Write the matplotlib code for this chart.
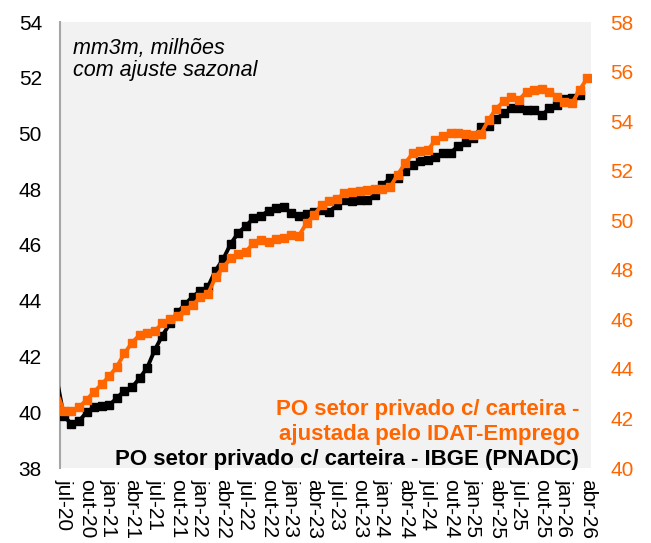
import numpy as np
import matplotlib
matplotlib.use("Agg")
import matplotlib.pyplot as plt

plt.rcParams['font.family'] = ['Liberation Sans', 'DejaVu Sans']
plt.rcParams['font.size'] = 15

# monthly series starting jun-20 (first point sits just left of the axis)
meses = ['jan', 'fev', 'mar', 'abr', 'mai', 'jun', 'jul', 'ago', 'set', 'out', 'nov', 'dez']
first_month = 5   # jun
first_year = 2020

pnadc = [41.3,
         39.87, 39.58, 39.68, 40.00, 40.19, 40.22, 40.26, 40.51, 40.78, 40.90,
         41.22, 41.60, 42.24, 42.75, 43.19, 43.58, 43.88, 44.15, 44.35, 44.50,
         45.08, 45.49, 46.04, 46.44, 46.68, 46.96, 47.04, 47.23, 47.32, 47.35,
         47.15, 47.03, 47.11, 47.20, 47.26, 47.20, 47.43, 47.61, 47.58, 47.61,
         47.61, 47.79, 48.15, 48.39, 48.39, 48.67, 48.87, 49.02, 49.05, 49.14,
         49.29, 49.31, 49.55, 49.71, 49.83, 50.22, 50.27, 50.53, 50.72, 50.90,
         50.92, 50.84, 50.84, 50.65, 50.90, 51.03, 51.25, 51.28, 51.38]

idat = [43.1,
        42.32, 42.30, 42.45, 42.75, 43.08, 43.38, 43.71, 44.09, 44.63, 45.06,
        45.37, 45.44, 45.53, 45.84, 46.00, 46.15, 46.38, 46.58, 46.89, 47.02,
        47.70, 48.10, 48.46, 48.64, 48.73, 49.07, 49.20, 49.13, 49.23, 49.27,
        49.42, 49.38, 49.88, 50.21, 50.61, 50.79, 50.84, 51.11, 51.15, 51.19,
        51.22, 51.25, 51.25, 51.33, 51.83, 52.30, 52.70, 52.81, 52.83, 53.24,
        53.40, 53.51, 53.51, 53.48, 53.44, 53.49, 54.05, 54.50, 54.80, 54.99,
        54.85, 55.19, 55.26, 55.28, 55.19, 54.99, 54.78, 54.72, 55.26, 55.73]

n = len(idat)
labels = []
for k in range(n):
    m = (first_month + k) % 12
    y = first_year + (first_month + k) // 12
    labels.append("%s-%02d" % (meses[m], y % 100))

x = np.arange(n) - 1          # jul-20 -> 0
x_b = x[:len(pnadc)]

orange = '#ff6600'

fig = plt.figure(figsize=(6.51, 5.43), dpi=100)
ax = fig.add_axes([60/651, 75/543, 531/651, 446/543])
ax.set_facecolor('#f2f2f2')
ax2 = ax.twinx()

# no marker on the jun-20 point (outside the plot)
ax.plot(x_b, pnadc, color='black', lw=2.8, marker='s', ms=5.6, mec='black',
        markevery=list(range(1, len(pnadc))), zorder=3)
ax2.plot(x, idat, color=orange, lw=2.8, marker='s', ms=5.6, mec=orange,
         markevery=list(range(1, n)), zorder=3)

ax.set_xlim(-0.5, 69.5)
ax.set_ylim(38, 54)
ax.set_yticks(np.arange(38, 55, 2))
ax2.set_ylim(40, 58)
ax2.set_yticks(np.arange(40, 59, 2))

ticks = [k for k in range(0, 70, 3)]
ax.set_xticks(ticks)
ax.set_xticklabels([labels[k + 1] for k in ticks], rotation=270, fontsize=15)

ax.tick_params(axis='x', length=0, pad=8)
ax.tick_params(axis='y', length=0, pad=13, labelsize=15)
ax2.tick_params(axis='y', length=0, pad=14, labelsize=15, labelcolor=orange)

for a in (ax, ax2):
    for s in ['top', 'right', 'bottom']:
        a.spines[s].set_visible(False)
ax2.spines['left'].set_visible(False)
ax.spines['left'].set_color('#a6a6a6')
ax.spines['left'].set_linewidth(1.5)

ax.text(0.025, 0.965, "mm3m, milhões\ncom ajuste sazonal", transform=ax.transAxes,
        fontsize=15.5, style='italic', va='top', ha='left', linespacing=1.1)

# legend-like labels, bottom right
ax.text(0.978, 0.119, "PO setor privado c/ carteira -", transform=ax.transAxes,
        fontsize=16, fontweight='bold', color=orange, ha='right', va='baseline')
ax.text(0.978, 0.063, "ajustada pelo IDAT-Emprego", transform=ax.transAxes,
        fontsize=16, fontweight='bold', color=orange, ha='right', va='baseline')
ax.text(0.978, 0.007, "PO setor privado c/ carteira - IBGE (PNADC)",
        transform=ax.transAxes, fontsize=16, fontweight='bold', color='black',
        ha='right', va='baseline')

plt.savefig("out.png", dpi=100)
